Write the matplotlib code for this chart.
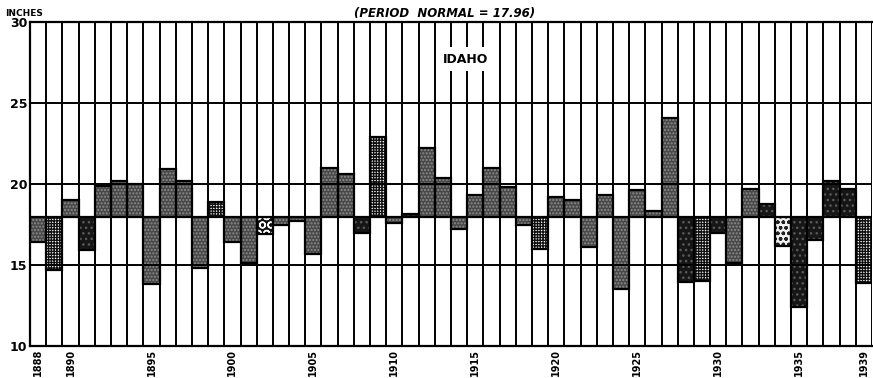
import numpy as np
import matplotlib.pyplot as plt

# Idaho annual precipitation, inches
years = list(range(1888, 1940))
precip = [16.4, 14.7, 19.0, 15.9, 19.9, 20.2, 20.0, 13.8, 20.9, 20.2,
          14.8, 18.9, 16.4, 15.1, 16.9, 17.5, 17.7, 15.7, 21.0, 20.6,
          17.0, 22.9, 17.6, 18.15, 22.2, 20.4, 17.2, 19.3, 21.0, 19.8,
          17.45, 16.0, 19.2, 19.0, 16.1, 19.3, 13.5, 19.6, 18.35, 24.1,
          13.95, 14.0, 17.0, 15.1, 19.7, 18.75, 16.2, 12.4, 16.55, 20.2,
          19.7, 13.9]
normal = 17.96
tick_years = [1888, 1890, 1895, 1900, 1905, 1910, 1915, 1920, 1925, 1930, 1935, 1939]
y_ticks = [10, 15, 20, 25, 30]

# shading used on each bar in the original, ten years per chunk
shade = list("sgsdssssss" "sgssxsssss" "dgsdssssss" "sgssssssss" "dgdssdpddd" "dg")

styles = {
    's': dict(face='#484848', hatch='.....', hcol='#8c8c8c'),
    'd': dict(face='#161616', hatch='...', hcol='#5a5a5a'),
    'g': dict(face='#ffffff', hatch='++++++', hcol='#111111'),
    'x': dict(face='#111111', hatch='OO', hcol='#ffffff'),
    'p': dict(face='#f2f2f2', hatch='ooo', hcol='#222222'),
}

plt.rcParams['hatch.linewidth'] = 1.0
fig = plt.figure(figsize=(8.73, 3.78), dpi=100)
ax = fig.add_axes([30/873, 1-346/378, 842/873, 324/378])

x = np.arange(len(years))
vals = np.array(precip)
for i in range(len(years)):
    st = styles[shade[i]]
    ax.bar(x[i], vals[i]-normal, bottom=normal, width=1.0,
           color=st['face'], hatch=st['hatch'], edgecolor=st['hcol'],
           linewidth=0, zorder=2)
    ax.bar(x[i], vals[i]-normal, bottom=normal, width=1.0,
           fill=False, edgecolor='black', linewidth=1.6, zorder=3)

# column lines and horizontal rules
for b in np.arange(-0.5, len(years)+0.5, 1):
    ax.axvline(b, color='black', lw=1.4, zorder=4)
for h in [15, 20, 25, 30]:
    ax.axhline(h, color='black', lw=1.4, zorder=4)

ax.set_xlim(-0.5, len(years)-0.5)
ax.set_ylim(10, 30)
for s in ax.spines.values():
    s.set_linewidth(1.6)
ax.spines['right'].set_visible(False)

ax.set_yticks(y_ticks)
ax.set_yticklabels([str(t) for t in y_ticks], fontsize=9, fontweight='bold')
ax.tick_params(axis='y', length=0, pad=2)
ax.set_xticks([years.index(t) for t in tick_years])
ax.set_xticklabels([str(t) for t in tick_years], rotation=90, fontsize=7,
                   fontweight='bold', va='top')
ax.tick_params(axis='x', length=0, pad=2)

fig.text(5/873, 1-13/378, 'INCHES', fontsize=6.5, fontweight='bold', va='center')
fig.text(445/873, 1-13/378, '(PERIOD  NORMAL = 17.96)', fontsize=8.5,
         fontstyle='italic', fontweight='bold', ha='center', va='center')
ax.text(x[years.index(1915)] - 0.6, 27.7, 'IDAHO', fontsize=9, fontweight='bold',
        ha='center', va='center', zorder=6,
        bbox=dict(facecolor='white', edgecolor='none', pad=4))

fig.savefig('out.png', dpi=100)
